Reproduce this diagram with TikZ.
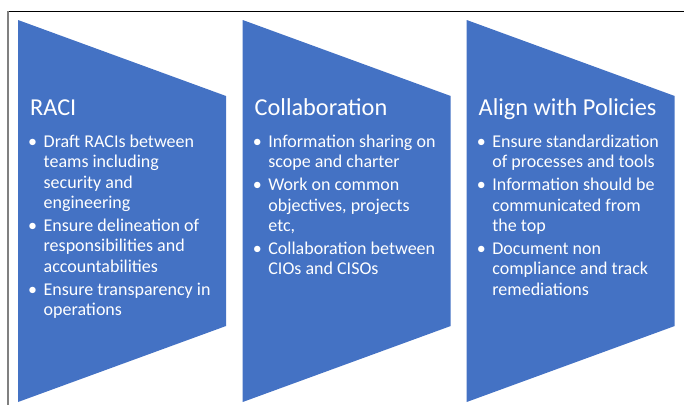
\documentclass[tikz,border=0pt]{standalone}
\usepackage{fontspec}
\setmainfont{Carlito}
\definecolor{officeblue}{HTML}{4472C4}
\newcommand{\bul}{\makebox[15.5pt][l]{\textbullet}}
\tikzset{
  head/.style={anchor=base west,inner sep=0pt,text=white,
    font=\fontsize{24.3}{28}\selectfont},
  points/.style={anchor=north west,inner sep=0pt,text=white,
    font=\fontsize{18}{20.4}\selectfont}
}
\begin{document}
\begin{tikzpicture}[x=1pt,y=-1pt]
\useasboundingbox (0,0) rectangle (684,405);
% frame
\draw[black,line width=0.9pt] (8,11) -- (684,11);
\draw[gray,line width=1.6pt] (8,11) -- (8,405);
% the three panels
\foreach \x in {18,242.7,466.7}
  \fill[officeblue] (\x,20) -- ++(208,76) -- ++(0,230) -- (\x,402) -- cycle;

\node[head] (raci) at (30,115) {RACI};
\node[points] (raci-list) at (28,133) {\begin{tabular}{@{}l@{}l@{}}
\bul & Draft RACIs between\\
 & teams including\\
 & security and\\
 & engineering\\[2.5pt]
\bul & Ensure delineation of\\
 & responsibilities and\\
 & accountabilities\\[2.5pt]
\bul & Ensure transparency in\\
 & operations
\end{tabular}};

\node[head] (collab) at (254.5,115) {Collaboration};
\node[points] (collab-list) at (252.7,133) {\begin{tabular}{@{}l@{}l@{}}
\bul & Information sharing on\\
 & scope and charter\\[2.5pt]
\bul & Work on common\\
 & objectives, projects\\
 & etc,\\[2.5pt]
\bul & Collaboration between\\
 & CIOs and CISOs
\end{tabular}};

\node[head] (align) at (478.5,115) {Align with Policies};
\node[points] (align-list) at (476.7,133) {\begin{tabular}{@{}l@{}l@{}}
\bul & Ensure standardization\\
 & of processes and tools\\[2.5pt]
\bul & Information should be\\
 & communicated from\\
 & the top\\[2.5pt]
\bul & Document non\\
 & compliance and track\\
 & remediations
\end{tabular}};
\end{tikzpicture}
\end{document}
